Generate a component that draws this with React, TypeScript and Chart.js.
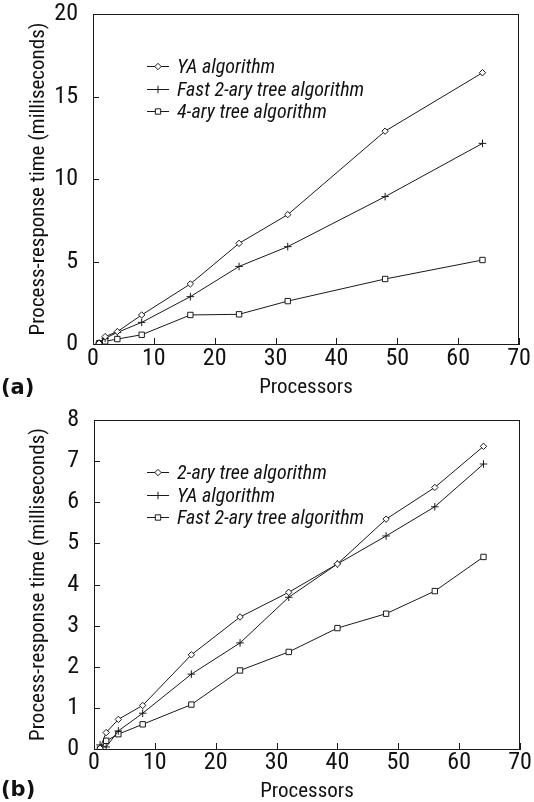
import React, { useEffect, useRef } from 'react';
import { Chart, registerables } from 'chart.js';

Chart.register(...registerables);

// ---------- Data ----------
const processorsA = [1, 2, 4, 8, 16, 24, 32, 48, 64];
const yaA = [0.05, 0.45, 0.75, 1.76, 3.64, 6.1, 7.84, 12.9, 16.44];
const fastTwoAryA = [0.05, 0.35, 0.7, 1.31, 2.87, 4.7, 5.9, 8.93, 12.16];
const fourAryA = [0.05, 0.16, 0.3, 0.56, 1.76, 1.8, 2.6, 3.94, 5.09];

const processorsB = [1, 2, 4, 8, 16, 24, 32, 40, 48, 56, 64];
const twoAryB = [0.02, 0.4, 0.72, 1.06, 2.29, 3.21, 3.81, 4.5, 5.59, 6.36, 7.36];
const yaB = [0.1, 0.05, 0.44, 0.87, 1.82, 2.58, 3.69, 4.5, 5.18, 5.89, 6.93];
const fastTwoAryB = [0.0, 0.2, 0.36, 0.6, 1.08, 1.91, 2.36, 2.94, 3.29, 3.84, 4.67];

const legendA = ['YA algorithm', 'Fast 2-ary tree algorithm', '4-ary tree algorithm'];
const legendB = ['2-ary tree algorithm', 'YA algorithm', 'Fast 2-ary tree algorithm'];

const xTitle = 'Processors';
const yTitle = 'Process-response time (milliseconds)';

const NARROW = '"Roboto Condensed", "DejaVu Sans Condensed", sans-serif';
const INK = '#1a1a1a';

type Marker = 'rectRot' | 'cross' | 'rect';
const markerRadius: Record<Marker, number> = { rectRot: 3.2, cross: 3.8, rect: 3.8 };

function drawMarker(ctx: CanvasRenderingContext2D, style: Marker, x: number, y: number) {
  const r = markerRadius[style];
  ctx.beginPath();
  if (style === 'rectRot') {
    ctx.moveTo(x, y - r);
    ctx.lineTo(x + r, y);
    ctx.lineTo(x, y + r);
    ctx.lineTo(x - r, y);
    ctx.closePath();
    ctx.fillStyle = '#fff';
    ctx.fill();
    ctx.stroke();
  } else if (style === 'rect') {
    const s = r * Math.SQRT1_2;
    ctx.rect(x - s, y - s, 2 * s, 2 * s);
    ctx.fillStyle = '#fff';
    ctx.fill();
    ctx.stroke();
  } else {
    ctx.moveTo(x - r, y);
    ctx.lineTo(x + r, y);
    ctx.moveTo(x, y - r);
    ctx.lineTo(x, y + r);
    ctx.stroke();
  }
}

interface PanelSpec {
  height: number;
  xs: number[];
  series: number[][];
  labels: string[];
  markers: Marker[];
  yMax: number;
  yStep: number;
  panelLabel: string;
  pad: { top: number; right: number };
  yAxisWidth: number;
  xAxisHeight: number;
  legendRows: number[];
  titlePadBottom: number;
  tickPadX: number;
}

function makePlugin(spec: PanelSpec) {
  return {
    id: 'frameAndLegend',
    afterDraw(chart: any) {
      const { ctx, chartArea: a, scales } = chart;
      ctx.save();
      ctx.strokeStyle = INK;
      ctx.lineWidth = 1;
      // top and right frame
      ctx.beginPath();
      ctx.moveTo(a.left, Math.round(a.top) + 0.5);
      ctx.lineTo(a.right, Math.round(a.top) + 0.5);
      ctx.moveTo(Math.round(a.right) - 0.5, a.top);
      ctx.lineTo(Math.round(a.right) - 0.5, a.bottom);
      // inner ticks
      scales.x.ticks.forEach((t: any) => {
        const px = Math.round(scales.x.getPixelForValue(t.value)) + 0.5;
        ctx.moveTo(px, a.bottom);
        ctx.lineTo(px, a.bottom - 6);
      });
      scales.y.ticks.forEach((t: any) => {
        const py = Math.round(scales.y.getPixelForValue(t.value)) + 0.5;
        ctx.moveTo(a.left, py);
        ctx.lineTo(a.left + 6, py);
      });
      ctx.stroke();

      // legend inside plot
      ctx.font = `italic 20px ${NARROW}`;
      ctx.textBaseline = 'middle';
      ctx.textAlign = 'left';
      chart.data.datasets.forEach((ds: any, i: number) => {
        const y = spec.legendRows[i] + 0.5;
        ctx.beginPath();
        ctx.moveTo(147, y);
        ctx.lineTo(169, y);
        ctx.stroke();
        drawMarker(ctx, ds.pointStyle, 158, y);
        ctx.fillStyle = '#111';
        ctx.fillText(ds.label, 177, y + 1);
      });

      // panel label
      ctx.font = 'bold 21px "DejaVu Sans", sans-serif';
      ctx.textBaseline = 'alphabetic';
      ctx.fillStyle = '#111';
      ctx.fillText(spec.panelLabel, 1, chart.height - 6);
      ctx.restore();
    },
  };
}

function Panel({ spec }: { spec: PanelSpec }) {
  const ref = useRef<HTMLCanvasElement>(null);
  useEffect(() => {
    if (!ref.current) return;
    const datasets = spec.series.map((vals, i) => ({
      label: spec.labels[i],
      data: spec.xs.map((x, j) => ({ x, y: vals[j] })),
      borderColor: INK,
      borderWidth: 1,
      backgroundColor: '#fff',
      pointStyle: spec.markers[i],
      pointRadius: markerRadius[spec.markers[i]],
      pointBorderColor: INK,
      pointBackgroundColor: '#fff',
      pointBorderWidth: 1,
      tension: 0,
      fill: false,
    }));
    const chart = new Chart(ref.current, {
      type: 'line',
      data: { datasets },
      options: {
        animation: false,
        responsive: false,
        events: [],
        layout: { padding: { top: spec.pad.top, right: spec.pad.right, left: 0, bottom: 0 } },
        plugins: { legend: { display: false }, tooltip: { enabled: false } },
        scales: {
          x: {
            type: 'linear',
            min: 0,
            max: 70,
            ticks: { stepSize: 10, color: '#111', font: { family: NARROW, size: 24, lineHeight: 1 }, padding: spec.tickPadX, maxRotation: 0 },
            grid: { display: false, drawTicks: false },
            border: { display: true, color: INK, width: 1 },
            title: { display: true, text: xTitle, color: '#111', font: { family: NARROW, size: 21, lineHeight: 1 }, padding: { top: 0, bottom: spec.titlePadBottom } },
            afterFit: (s: any) => {
              s.height = spec.xAxisHeight;
              s.paddingLeft = 0;
              s.paddingRight = 0;
            },
          },
          y: {
            type: 'linear',
            min: 0,
            max: spec.yMax,
            ticks: { stepSize: spec.yStep, color: '#111', font: { family: NARROW, size: 24, lineHeight: 1 }, padding: 15 },
            grid: { display: false, drawTicks: false },
            border: { display: true, color: INK, width: 1 },
            title: { display: true, text: yTitle, color: '#111', font: { family: NARROW, size: 21, lineHeight: 1 }, padding: { top: 28, bottom: 0 } },
            afterFit: (s: any) => {
              s.width = spec.yAxisWidth;
              s.paddingTop = 0;
              s.paddingBottom = 0;
            },
          },
        },
      } as any,
      plugins: [makePlugin(spec)],
    });
    return () => chart.destroy();
  }, [spec]);
  return <canvas ref={ref} width={534} height={spec.height} style={{ display: 'block', width: 534, height: spec.height }} />;
}

const specA: PanelSpec = {
  height: 400,
  xs: processorsA,
  series: [yaA, fastTwoAryA, fourAryA],
  labels: legendA,
  markers: ['rectRot', 'cross', 'rect'],
  yMax: 20,
  yStep: 5,
  panelLabel: '(a)',
  pad: { top: 14, right: 15 },
  yAxisWidth: 93,
  xAxisHeight: 56,
  legendRows: [66, 89, 111],
  titlePadBottom: 2,
  tickPadX: 3,
};

const specB: PanelSpec = {
  height: 402,
  xs: processorsB,
  series: [twoAryB, yaB, fastTwoAryB],
  labels: legendB,
  markers: ['rectRot', 'cross', 'rect'],
  yMax: 8,
  yStep: 1,
  panelLabel: '(b)',
  pad: { top: 20, right: 14 },
  yAxisWidth: 94,
  xAxisHeight: 53,
  legendRows: [72, 95, 117],
  titlePadBottom: 0,
  tickPadX: 2,
};

export default function App() {
  return (
    <div style={{ position: 'absolute', left: 0, top: 0, width: 534, height: 802, background: '#fff' }}>
      <Panel spec={specA} />
      <Panel spec={specB} />
    </div>
  );
}
